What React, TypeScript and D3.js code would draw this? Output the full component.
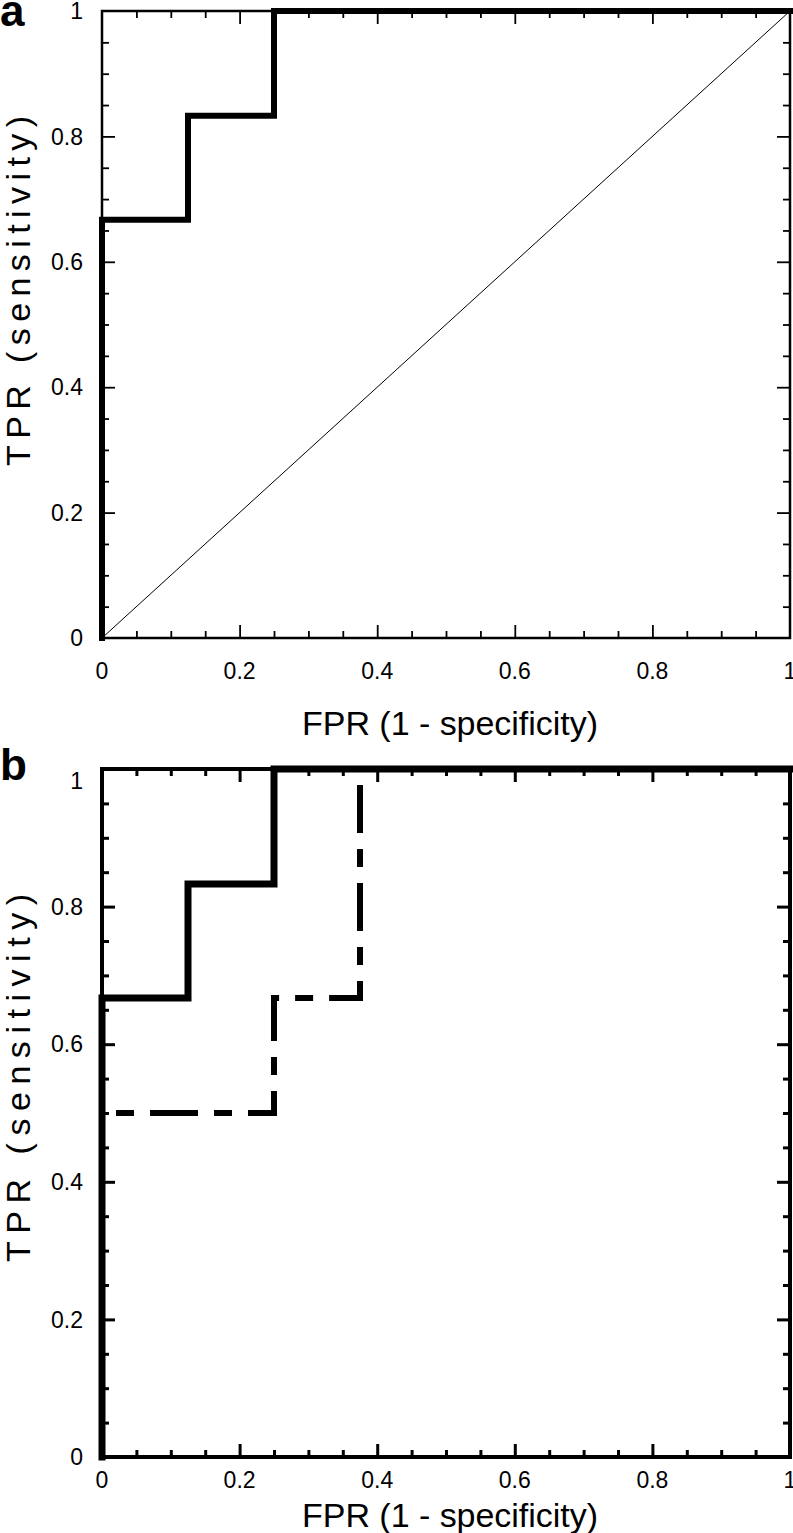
import React, { useEffect, useRef } from "react";
import * as d3 from "d3";

// ROC points (vertices of step curves)
const solidFpr = [0, 0, 0.125, 0.25, 1];
const solidTpr = [0, 0.667, 0.833, 1, 1];
const dashFpr = [0, 0, 0.25, 0.375, 1];
const dashTpr = [0, 0.5, 0.667, 1, 1];
const diagFpr = [0, 1];
const diagTpr = [0, 1];

const majorTicks = [0, 0.2, 0.4, 0.6, 0.8, 1];
const minorTicks = [0.05, 0.1, 0.15, 0.25, 0.3, 0.35, 0.45, 0.5, 0.55, 0.65, 0.7, 0.75, 0.85, 0.9, 0.95];
const tickLabels = ["0", "0.2", "0.4", "0.6", "0.8", "1"];
const xTitle = "FPR (1 - specificity)";
const yTitle = "TPR (sensitivity)";

const FONT = "'Liberation Sans', Arial, sans-serif";

const panels = [
  {
    letter: "a", letterY: 26, left: 102, right: 790, top: 11, bottom: 638,
    axisW: 2.5, tickW: 1.8, curveW: 6, xLabelY: 679, titleY: 735,
    yTitleY: 291, yTitleLen: 350, topLabelPad: 0, dashed: false, diagonal: true
  },
  {
    letter: "b", letterY: 780, left: 102, right: 790, top: 769, bottom: 1457,
    axisW: 4, tickW: 3, curveW: 7, xLabelY: 1488, titleY: 1527,
    yTitleY: 1078, yTitleLen: 368, topLabelPad: 12, dashed: true, diagonal: false
  }
];

export default function App() {
  const svgRef = useRef<SVGSVGElement>(null);

  useEffect(() => {
    const svg = d3.select(svgRef.current);
    svg.selectAll("*").remove();

    panels.forEach(p => {
      const x = d3.scaleLinear().domain([0, 1]).range([p.left, p.right]);
      const y = d3.scaleLinear().domain([0, 1]).range([p.bottom, p.top]);
      const g = svg.append("g");

      // inward ticks on all four sides
      const sides: [any, string][] = [
        [d3.axisBottom(x), `translate(0,${p.bottom})`],
        [d3.axisTop(x), `translate(0,${p.top})`],
        [d3.axisLeft(y), `translate(${p.left},0)`],
        [d3.axisRight(y), `translate(${p.right},0)`]
      ];
      sides.forEach(([axis, tr]) => {
        [[minorTicks, 7], [majorTicks.slice(1, -1), 13]].forEach(([vals, len]: any) => {
          const ag = g.append("g")
            .attr("transform", tr)
            .call(axis.tickValues(vals).tickSize(-len).tickSizeOuter(0).tickFormat(() => ""));
          ag.select(".domain").remove();
          ag.selectAll("line").attr("stroke", "#000").attr("stroke-width", p.tickW);
        });
      });

      // frame
      g.append("rect")
        .attr("x", p.left).attr("y", p.top)
        .attr("width", p.right - p.left).attr("height", p.bottom - p.top)
        .attr("fill", "none").attr("stroke", "#000").attr("stroke-width", p.axisW);

      // tick labels
      g.selectAll(".xl").data(majorTicks).enter().append("text")
        .attr("x", d => x(d)).attr("y", p.xLabelY)
        .attr("text-anchor", "middle")
        .style("font-family", FONT).style("font-size", "23px")
        .text((d, i) => tickLabels[i]);

      g.selectAll(".yl").data(majorTicks).enter().append("text")
        .attr("x", 83).attr("y", d => Math.max(y(d), p.top + p.topLabelPad))
        .attr("dy", "0.36em")
        .attr("text-anchor", "end")
        .style("font-family", FONT).style("font-size", "23px")
        .text((d, i) => tickLabels[i]);

      // axis titles
      g.append("text")
        .attr("x", (p.left + p.right) / 2 + 4).attr("y", p.titleY)
        .attr("text-anchor", "middle")
        .attr("textLength", 296).attr("lengthAdjust", "spacing")
        .style("font-family", FONT).style("font-size", "34px")
        .text(xTitle);

      g.append("text")
        .attr("transform", `translate(30,${p.yTitleY}) rotate(-90)`)
        .attr("text-anchor", "middle")
        .attr("textLength", p.yTitleLen).attr("lengthAdjust", "spacing")
        .style("font-family", FONT).style("font-size", "34px")
        .text(yTitle);

      // panel letter
      g.append("text")
        .attr("x", 0).attr("y", p.letterY)
        .style("font-family", FONT).style("font-size", "44px").style("font-weight", "bold")
        .text(p.letter);

      // curves
      const line = d3.line<number>()
        .x(d => x(d))
        .curve(d3.curveStepAfter);

      if (p.diagonal) {
        g.append("path")
          .attr("d", d3.line<number>().x(d => x(d)).y((d, i) => y(diagTpr[i]))(diagFpr))
          .attr("fill", "none").attr("stroke", "#000").attr("stroke-width", 1);
      }

      if (p.dashed) {
        g.append("path")
          .attr("d", line.y((d, i) => y(dashTpr[i]))(dashFpr))
          .attr("fill", "none").attr("stroke", "#000").attr("stroke-width", 6)
          .attr("stroke-dasharray", "48,16,18,16");
      }

      g.append("path")
        .attr("d", line.y((d, i) => y(solidTpr[i]))(solidFpr))
        .attr("fill", "none").attr("stroke", "#000").attr("stroke-width", p.curveW)
        .attr("stroke-linejoin", "miter").attr("stroke-linecap", "square");
    });
  }, []);

  return (
    <svg
      ref={svgRef}
      width={793}
      height={1533}
      style={{ position: "absolute", left: 0, top: 0, display: "block", background: "#fff" }}
    />
  );
}
